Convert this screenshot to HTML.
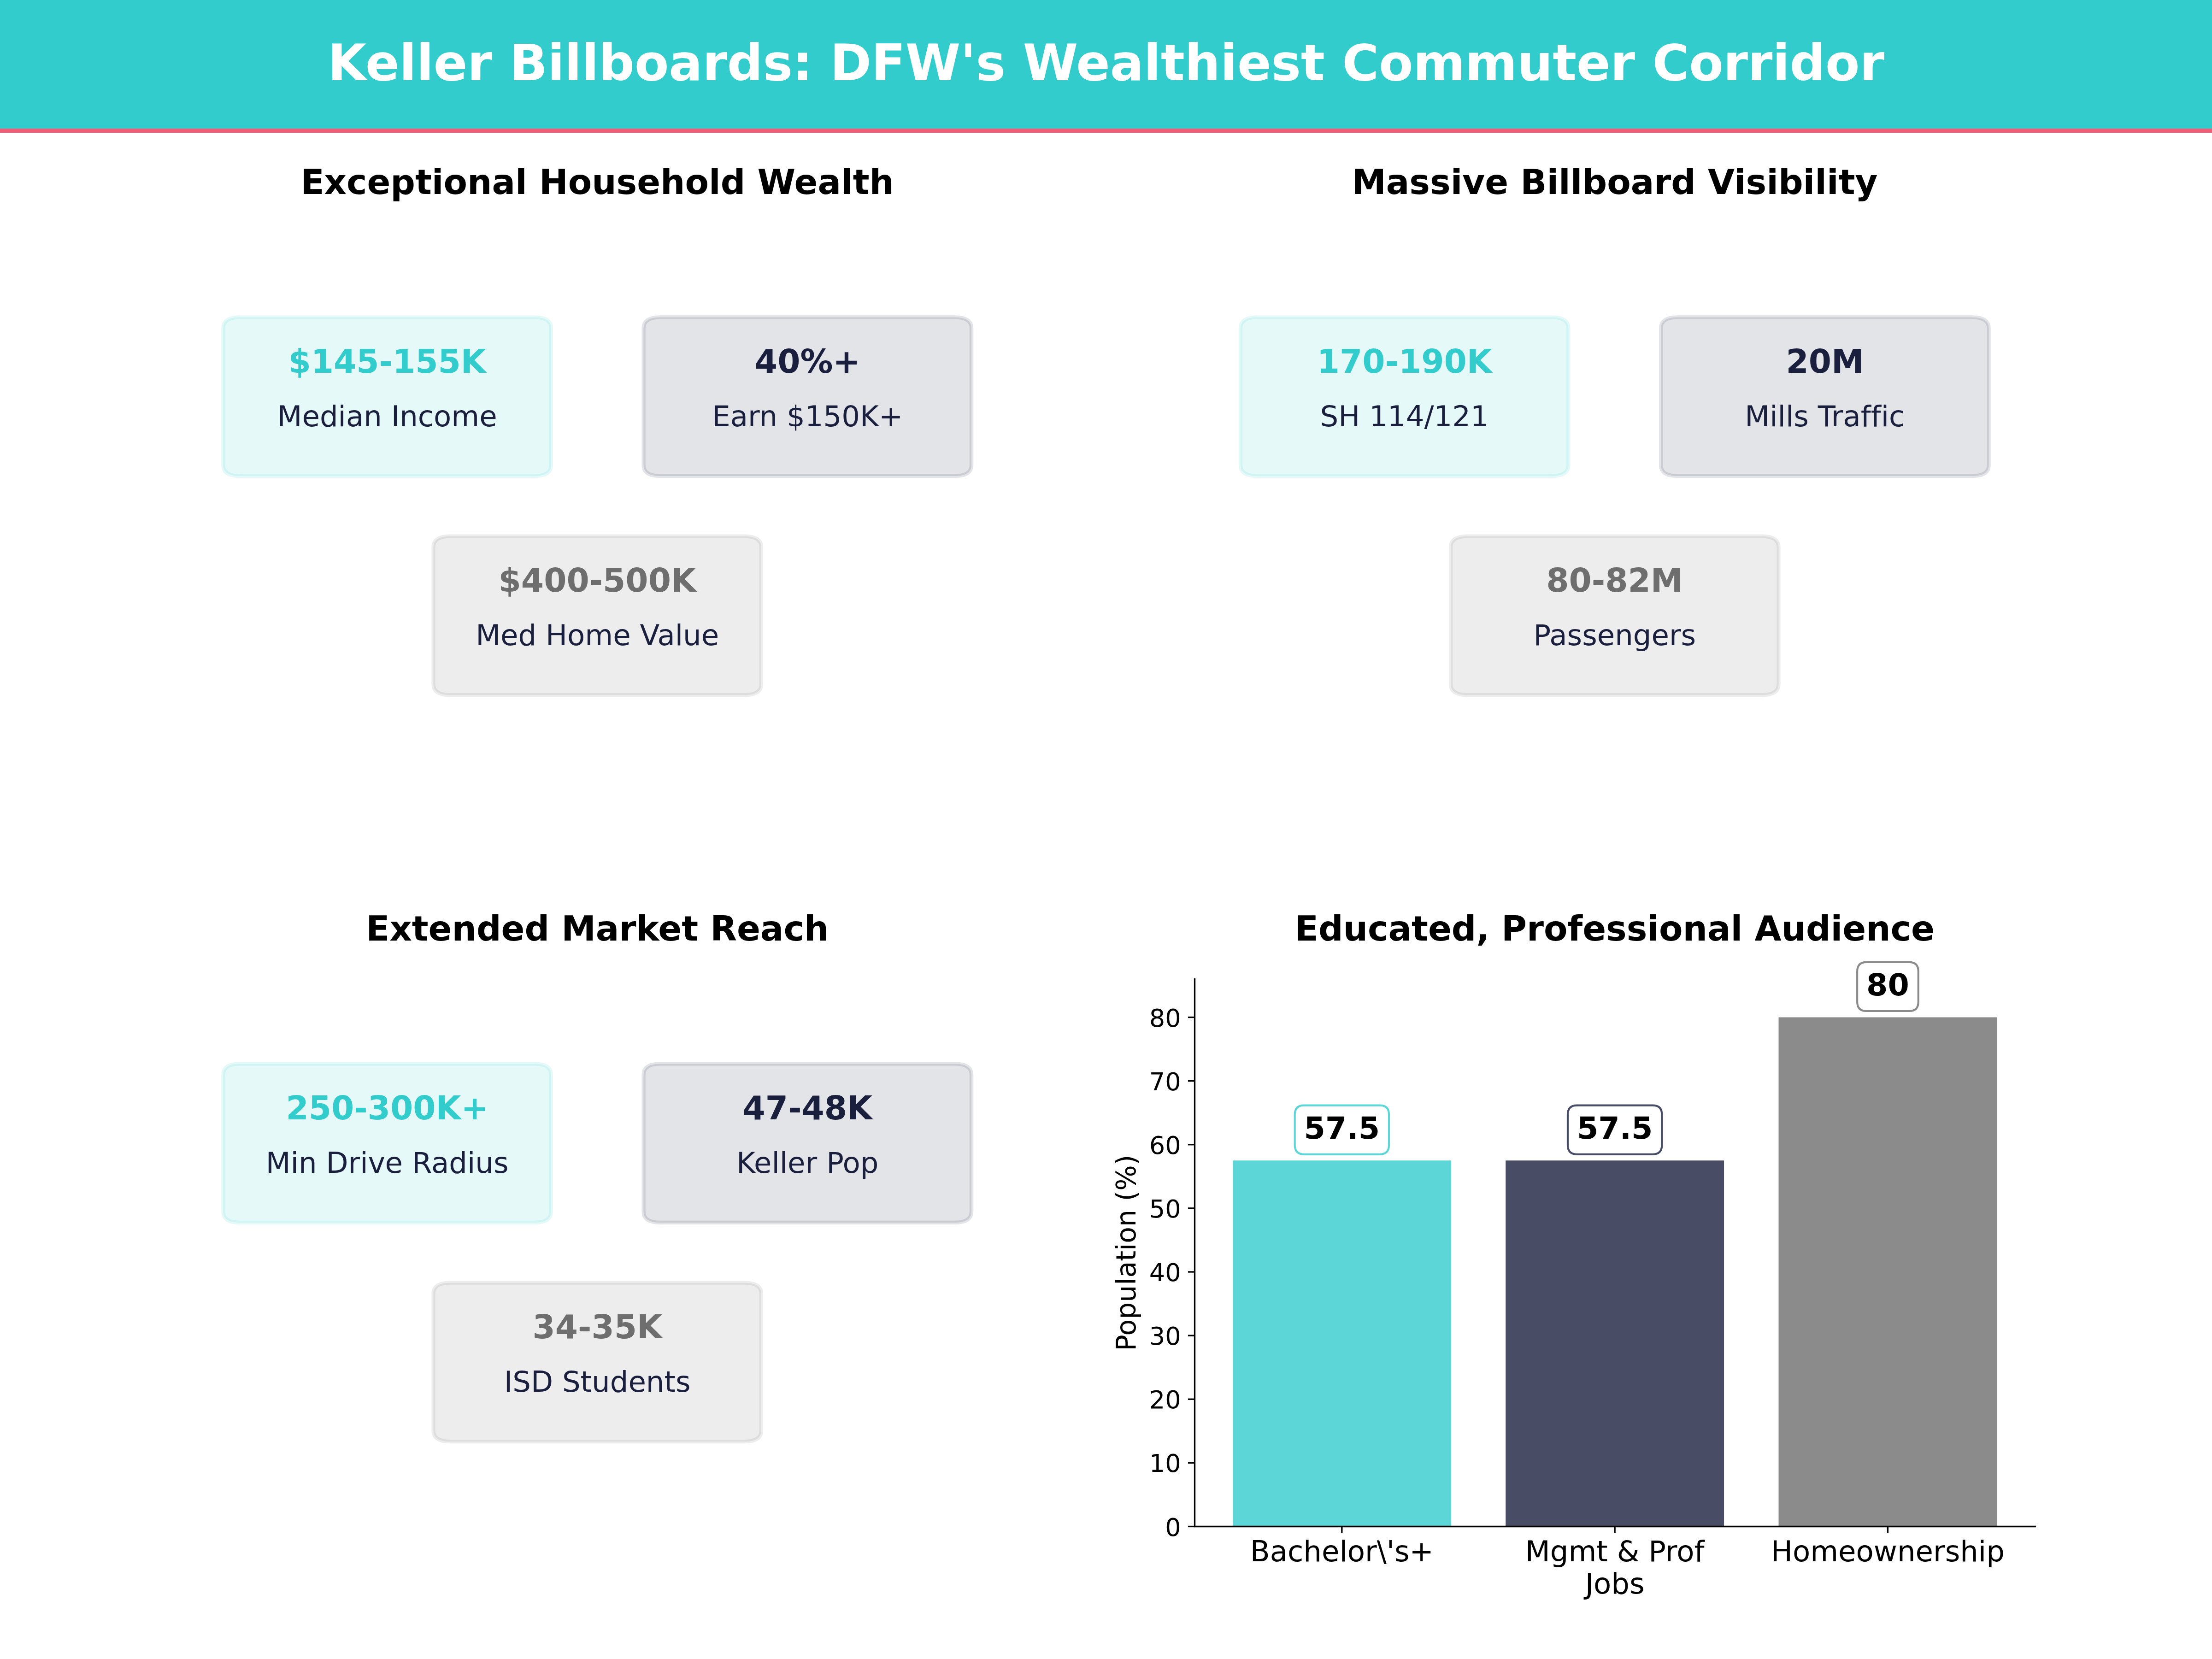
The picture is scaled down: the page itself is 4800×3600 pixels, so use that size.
<!DOCTYPE html>
<html><head><meta charset="utf-8"><title>Keller Billboards</title>
<style>
html,body{margin:0;padding:0;background:#fff;}
svg{display:block;font-family:"DejaVu Sans", "Liberation Sans", sans-serif;}
text{white-space:pre;font-variant-ligatures:none;font-feature-settings:"liga" 0,"clig" 0,"dlig" 0;}
</style></head><body>
<svg width="4800" height="3600" viewBox="0 0 4800 3600">
<rect width="4800" height="3600" fill="#fff"/>
<rect x="0" y="0" width="4800" height="279" fill="#33CCCC"/>
<rect x="0" y="279" width="4800" height="9" fill="#F05D76"/>
<text x="2400" y="174.2" text-anchor="middle" font-size="108.33" font-weight="bold" fill="#fff">Keller Billboards: DFW's Wealthiest Commuter Corridor</text>
<text x="1296.20" y="421.00" text-anchor="middle" font-size="75.00" font-weight="bold" fill="#000">Exceptional Household Wealth</text>
<path d="M520.83 688.44H1159.37Q1195.86 688.44 1195.86 712.20V1009.20Q1195.86 1032.96 1159.37 1032.96H520.83Q484.34 1032.96 484.34 1009.20V712.20Q484.34 688.44 520.83 688.44Z" fill="#33CCCC" fill-opacity="0.12" stroke="#33CCCC" stroke-opacity="0.12" stroke-width="8.33"/>
<text x="840.10" y="809.20" text-anchor="middle" font-size="70.83" font-weight="bold" fill="#33CCCC">$145-155K</text>
<text x="840.10" y="924.70" text-anchor="middle" font-size="62.50" fill="#1A1F3E">Median Income</text>
<path d="M1433.03 688.44H2071.57Q2108.06 688.44 2108.06 712.20V1009.20Q2108.06 1032.96 2071.57 1032.96H1433.03Q1396.54 1032.96 1396.54 1009.20V712.20Q1396.54 688.44 1433.03 688.44Z" fill="#1A1F3E" fill-opacity="0.12" stroke="#1A1F3E" stroke-opacity="0.12" stroke-width="8.33"/>
<text x="1752.30" y="809.20" text-anchor="middle" font-size="70.83" font-weight="bold" fill="#1A1F3E">40%+</text>
<text x="1752.30" y="924.70" text-anchor="middle" font-size="62.50" fill="#1A1F3E">Earn $150K+</text>
<path d="M976.93 1163.64H1615.47Q1651.96 1163.64 1651.96 1187.40V1484.40Q1651.96 1508.16 1615.47 1508.16H976.93Q940.44 1508.16 940.44 1484.40V1187.40Q940.44 1163.64 976.93 1163.64Z" fill="#6E6E6E" fill-opacity="0.12" stroke="#6E6E6E" stroke-opacity="0.12" stroke-width="8.33"/>
<text x="1296.20" y="1284.40" text-anchor="middle" font-size="70.83" font-weight="bold" fill="#6E6E6E">$400-500K</text>
<text x="1296.20" y="1399.90" text-anchor="middle" font-size="62.50" fill="#1A1F3E">Med Home Value</text>
<text x="3503.80" y="421.00" text-anchor="middle" font-size="75.00" font-weight="bold" fill="#000">Massive Billboard Visibility</text>
<path d="M2728.43 688.44H3366.97Q3403.46 688.44 3403.46 712.20V1009.20Q3403.46 1032.96 3366.97 1032.96H2728.43Q2691.94 1032.96 2691.94 1009.20V712.20Q2691.94 688.44 2728.43 688.44Z" fill="#33CCCC" fill-opacity="0.12" stroke="#33CCCC" stroke-opacity="0.12" stroke-width="8.33"/>
<text x="3047.70" y="809.20" text-anchor="middle" font-size="70.83" font-weight="bold" fill="#33CCCC">170-190K</text>
<text x="3047.70" y="924.70" text-anchor="middle" font-size="62.50" fill="#1A1F3E">SH 114/121</text>
<path d="M3640.63 688.44H4279.17Q4315.66 688.44 4315.66 712.20V1009.20Q4315.66 1032.96 4279.17 1032.96H3640.63Q3604.14 1032.96 3604.14 1009.20V712.20Q3604.14 688.44 3640.63 688.44Z" fill="#1A1F3E" fill-opacity="0.12" stroke="#1A1F3E" stroke-opacity="0.12" stroke-width="8.33"/>
<text x="3959.90" y="809.20" text-anchor="middle" font-size="70.83" font-weight="bold" fill="#1A1F3E">20M</text>
<text x="3959.90" y="924.70" text-anchor="middle" font-size="62.50" fill="#1A1F3E">Mills Traffic</text>
<path d="M3184.53 1163.64H3823.07Q3859.56 1163.64 3859.56 1187.40V1484.40Q3859.56 1508.16 3823.07 1508.16H3184.53Q3148.04 1508.16 3148.04 1484.40V1187.40Q3148.04 1163.64 3184.53 1163.64Z" fill="#6E6E6E" fill-opacity="0.12" stroke="#6E6E6E" stroke-opacity="0.12" stroke-width="8.33"/>
<text x="3503.80" y="1284.40" text-anchor="middle" font-size="70.83" font-weight="bold" fill="#6E6E6E">80-82M</text>
<text x="3503.80" y="1399.90" text-anchor="middle" font-size="62.50" fill="#1A1F3E">Passengers</text>
<text x="1296.20" y="2041.00" text-anchor="middle" font-size="75.00" font-weight="bold" fill="#000">Extended Market Reach</text>
<path d="M520.83 2308.44H1159.37Q1195.86 2308.44 1195.86 2332.20V2629.20Q1195.86 2652.96 1159.37 2652.96H520.83Q484.34 2652.96 484.34 2629.20V2332.20Q484.34 2308.44 520.83 2308.44Z" fill="#33CCCC" fill-opacity="0.12" stroke="#33CCCC" stroke-opacity="0.12" stroke-width="8.33"/>
<text x="840.10" y="2429.20" text-anchor="middle" font-size="70.83" font-weight="bold" fill="#33CCCC">250-300K+</text>
<text x="840.10" y="2544.70" text-anchor="middle" font-size="62.50" fill="#1A1F3E">Min Drive Radius</text>
<path d="M1433.03 2308.44H2071.57Q2108.06 2308.44 2108.06 2332.20V2629.20Q2108.06 2652.96 2071.57 2652.96H1433.03Q1396.54 2652.96 1396.54 2629.20V2332.20Q1396.54 2308.44 1433.03 2308.44Z" fill="#1A1F3E" fill-opacity="0.12" stroke="#1A1F3E" stroke-opacity="0.12" stroke-width="8.33"/>
<text x="1752.30" y="2429.20" text-anchor="middle" font-size="70.83" font-weight="bold" fill="#1A1F3E">47-48K</text>
<text x="1752.30" y="2544.70" text-anchor="middle" font-size="62.50" fill="#1A1F3E">Keller Pop</text>
<path d="M976.93 2783.64H1615.47Q1651.96 2783.64 1651.96 2807.40V3104.40Q1651.96 3128.16 1615.47 3128.16H976.93Q940.44 3128.16 940.44 3104.40V2807.40Q940.44 2783.64 976.93 2783.64Z" fill="#6E6E6E" fill-opacity="0.12" stroke="#6E6E6E" stroke-opacity="0.12" stroke-width="8.33"/>
<text x="1296.20" y="2904.40" text-anchor="middle" font-size="70.83" font-weight="bold" fill="#6E6E6E">34-35K</text>
<text x="1296.20" y="3019.90" text-anchor="middle" font-size="62.50" fill="#1A1F3E">ISD Students</text>
<text x="3503.80" y="2041.00" text-anchor="middle" font-size="75.00" font-weight="bold" fill="#000">Educated, Professional Audience</text>
<rect x="2674.92" y="2518.28" width="473.84" height="794.22" fill="#33CCCC" fill-opacity="0.8"/>
<rect x="3267.22" y="2518.28" width="473.84" height="794.22" fill="#1A1F3E" fill-opacity="0.8"/>
<rect x="3859.52" y="2207.50" width="473.84" height="1105.00" fill="#6E6E6E" fill-opacity="0.8"/>
<path d="M2592.5 2124.67V3312.5H4416.5" fill="none" stroke="#000" stroke-width="3.33" stroke-linecap="square"/>
<line x1="2577.92" x2="2592.50" y1="3312.50" y2="3312.50" stroke="#000" stroke-width="3.33"/>
<text x="2562.63" y="3332.50" text-anchor="end" font-size="54.17" fill="#000">0</text>
<line x1="2577.92" x2="2592.50" y1="3174.38" y2="3174.38" stroke="#000" stroke-width="3.33"/>
<text x="2562.63" y="3194.38" text-anchor="end" font-size="54.17" fill="#000">10</text>
<line x1="2577.92" x2="2592.50" y1="3036.25" y2="3036.25" stroke="#000" stroke-width="3.33"/>
<text x="2562.63" y="3056.25" text-anchor="end" font-size="54.17" fill="#000">20</text>
<line x1="2577.92" x2="2592.50" y1="2898.12" y2="2898.12" stroke="#000" stroke-width="3.33"/>
<text x="2562.63" y="2918.12" text-anchor="end" font-size="54.17" fill="#000">30</text>
<line x1="2577.92" x2="2592.50" y1="2760.00" y2="2760.00" stroke="#000" stroke-width="3.33"/>
<text x="2562.63" y="2780.00" text-anchor="end" font-size="54.17" fill="#000">40</text>
<line x1="2577.92" x2="2592.50" y1="2621.88" y2="2621.88" stroke="#000" stroke-width="3.33"/>
<text x="2562.63" y="2641.88" text-anchor="end" font-size="54.17" fill="#000">50</text>
<line x1="2577.92" x2="2592.50" y1="2483.75" y2="2483.75" stroke="#000" stroke-width="3.33"/>
<text x="2562.63" y="2503.75" text-anchor="end" font-size="54.17" fill="#000">60</text>
<line x1="2577.92" x2="2592.50" y1="2345.62" y2="2345.62" stroke="#000" stroke-width="3.33"/>
<text x="2562.63" y="2365.62" text-anchor="end" font-size="54.17" fill="#000">70</text>
<line x1="2577.92" x2="2592.50" y1="2207.50" y2="2207.50" stroke="#000" stroke-width="3.33"/>
<text x="2562.63" y="2227.50" text-anchor="end" font-size="54.17" fill="#000">80</text>
<line x1="2911.84" x2="2911.84" y1="3312.50" y2="3327.08" stroke="#000" stroke-width="3.33"/>
<text x="2911.84" y="3387.60" text-anchor="middle" font-size="62.50" fill="#000">Bachelor\'s+</text>
<line x1="3504.14" x2="3504.14" y1="3312.50" y2="3327.08" stroke="#000" stroke-width="3.33"/>
<text x="3504.14" y="3387.60" text-anchor="middle" font-size="62.50" fill="#000">Mgmt &amp; Prof</text>
<text x="3504.14" y="3458.00" text-anchor="middle" font-size="62.50" fill="#000">Jobs</text>
<line x1="4096.44" x2="4096.44" y1="3312.50" y2="3327.08" stroke="#000" stroke-width="3.33"/>
<text x="4096.44" y="3387.60" text-anchor="middle" font-size="62.50" fill="#000">Homeownership</text>
<text transform="translate(2464.3 2718.59) rotate(-90)" text-anchor="middle" font-size="58.33" fill="#000">Population (%)</text>
<path d="M2829.68 2398.66H2994.01Q3014.01 2398.66 3014.01 2418.66V2484.80Q3014.01 2504.80 2994.01 2504.80H2829.68Q2809.68 2504.80 2809.68 2484.80V2418.66Q2809.68 2398.66 2829.68 2398.66Z" fill="#fff" stroke="#33CCCC" stroke-opacity="0.8" stroke-width="4.17"/>
<text x="2911.84" y="2471.08" text-anchor="middle" font-size="66.67" font-weight="bold" fill="#000">57.5</text>
<path d="M3421.98 2398.66H3586.31Q3606.31 2398.66 3606.31 2418.66V2484.80Q3606.31 2504.80 3586.31 2504.80H3421.98Q3401.98 2504.80 3401.98 2484.80V2418.66Q3401.98 2398.66 3421.98 2398.66Z" fill="#fff" stroke="#1A1F3E" stroke-opacity="0.8" stroke-width="4.17"/>
<text x="3504.14" y="2471.08" text-anchor="middle" font-size="66.67" font-weight="bold" fill="#000">57.5</text>
<path d="M4050.13 2087.88H4142.76Q4162.76 2087.88 4162.76 2107.88V2174.02Q4162.76 2194.02 4142.76 2194.02H4050.13Q4030.13 2194.02 4030.13 2174.02V2107.88Q4030.13 2087.88 4050.13 2087.88Z" fill="#fff" stroke="#6E6E6E" stroke-opacity="0.8" stroke-width="4.17"/>
<text x="4096.44" y="2160.30" text-anchor="middle" font-size="66.67" font-weight="bold" fill="#000">80</text>
</svg>
</body></html>
